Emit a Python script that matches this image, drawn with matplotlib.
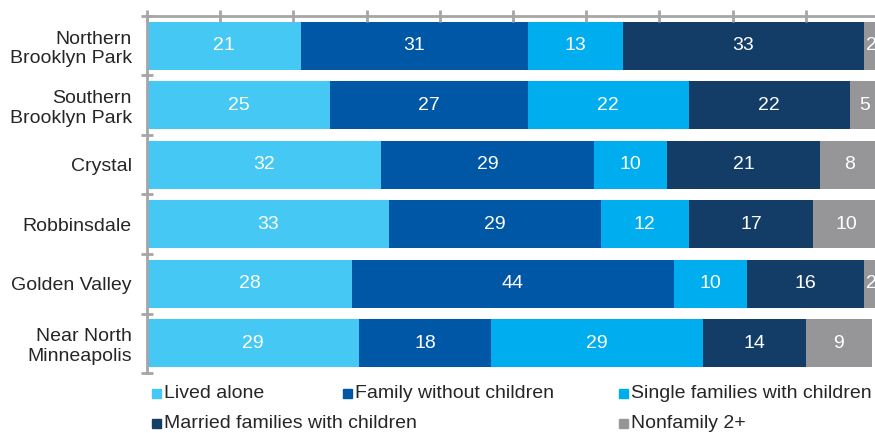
import numpy as np
import matplotlib
matplotlib.use("Agg")
import matplotlib.pyplot as plt
from matplotlib.patches import Rectangle

plt.rcParams["font.family"] = ["Liberation Sans", "DejaVu Sans"]

areas = ["Northern\nBrooklyn Park", "Southern\nBrooklyn Park", "Crystal",
         "Robbinsdale", "Golden Valley", "Near North\nMinneapolis"]
series_names = ["Lived alone", "Family without children",
                "Single families with children",
                "Married families with children", "Nonfamily 2+"]
lived_alone = [21, 25, 32, 33, 28, 29]
family_no_kids = [31, 27, 29, 29, 44, 18]
single_with_kids = [13, 22, 10, 12, 10, 29]
married_with_kids = [33, 22, 21, 17, 16, 14]
nonfamily = [2, 5, 8, 10, 2, 9]
colors = ["#45C8F4", "#0057A5", "#00ADEE", "#133C66", "#969698"]

W, H = 875, 433
TXT = "#262626"
GRID = "#A6A6A6"
FS = 14

fig = plt.figure(figsize=(W / 100, H / 100), dpi=100)
ax = fig.add_axes([147 / W, 1 - 373 / H, 732 / W, 357 / H])

y = np.arange(len(areas))
left = np.zeros(len(areas))
for vals, name, col in zip([lived_alone, family_no_kids, single_with_kids,
                            married_with_kids, nonfamily], series_names, colors):
    bars = ax.barh(y, vals, left=left, height=0.8, color=col, label=name)
    ax.bar_label(bars, labels=[str(v) for v in vals], label_type="center",
                 color="white", fontsize=FS, clip_on=False)
    left += np.array(vals)

ax.set_xlim(0, 100)
ax.set_ylim(len(areas) - 0.5, -0.5)
ax.set_yticks(y)
ax.set_yticklabels(areas, fontsize=FS, color=TXT)
ax.set_yticks(np.arange(-0.5, len(areas)), minor=True)
ax.tick_params(axis="y", which="major", length=0, pad=11)
ax.tick_params(axis="y", which="minor", direction="inout", length=8,
               width=2, color=GRID)
ax.xaxis.tick_top()
ax.set_xticks(np.arange(0, 101, 10))
ax.tick_params(axis="x", direction="inout", length=8, width=2, color=GRID,
               labeltop=False, labelbottom=False)
for s in ["right", "bottom"]:
    ax.spines[s].set_visible(False)
for s in ["top", "left"]:
    ax.spines[s].set_color(GRID)
    ax.spines[s].set_linewidth(2)

# legend laid out by hand, as in the source
leg_pos = [(152, 393), (343, 393), (619, 393), (152, 423), (619, 423)]
for (px, py), name, col in zip(leg_pos, series_names, colors):
    fig.patches.append(Rectangle((px / W, 1 - (py + 4.5) / H), 9 / W, 9 / H,
                                 transform=fig.transFigure, color=col))
    fig.text((px + 12) / W, 1 - py / H, name, fontsize=FS, color=TXT,
             va="center", ha="left")

fig.savefig("out.png", dpi=100)
